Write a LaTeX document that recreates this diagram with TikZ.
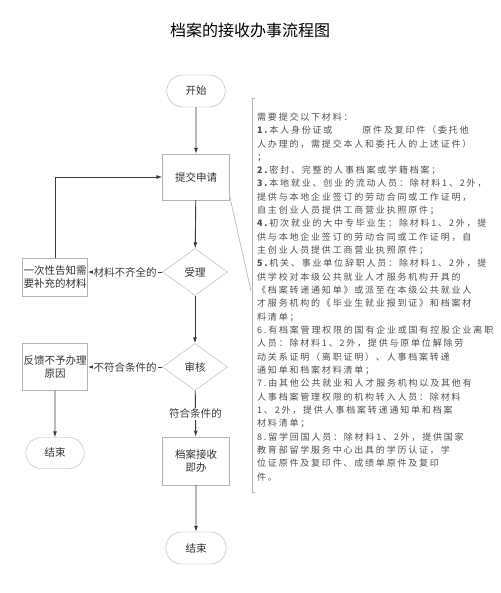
\documentclass[tikz,border=0pt]{standalone}
\usepackage{fontspec}
\setmainfont{Noto Sans CJK SC}
\newfontfamily\notefont[LetterSpace=20]{Noto Sans CJK SC}
\usetikzlibrary{arrows.meta, positioning, shapes.geometric, shapes.misc}
\definecolor{framegray}{HTML}{B4B4B4}
\definecolor{linedark}{HTML}{3C3C3C}
\definecolor{textdark}{HTML}{333333}
\definecolor{notegray}{HTML}{505050}

\begin{document}
\begin{tikzpicture}[x=1pt, y=-1pt, >={Latex[length=6pt,width=4pt]},
    font=\fontsize{10.5}{13}\selectfont, text=textdark,
    procbox/.style={draw=framegray, fill=white, minimum width=67pt, minimum height=46pt, inner sep=2pt, align=center},
    termbox/.style={draw=framegray, fill=white, rounded rectangle, minimum width=65pt, minimum height=32pt},
    decision/.style={draw=framegray, fill=white, diamond, minimum width=65pt, minimum height=47pt, inner sep=0pt},
    flow/.style={->, linedark, line width=0.9pt},
    branch/.style={fill=white, inner sep=1pt},
    noteline/.style={framegray, line width=0.6pt}]
    \fill[white] (0,0) rectangle (500,593);
    \useasboundingbox (0,0) rectangle (500,593);

    % ── Title ────────────────────────────────────────────────────────
    \node[font=\fontsize{16}{16}\selectfont, text=black] (title) at (250,30) {档案的接收办事流程图};

    % ── Main column ──────────────────────────────────────────────────
    \node[termbox] (start) at (196,91) {开始};
    \node[procbox] (submit) at (196,177) {提交申请};
    \node[decision] (accept) at (195,272) {受理};
    \node[decision] (review) at (195,367) {审核};
    \node[procbox, minimum height=48pt] (archive) at (196,461) {档案接收\\即办};
    \node[termbox, minimum width=67pt] (endmain) at (196,548) {结束};

    % ── Left column ──────────────────────────────────────────────────
    \node[procbox, minimum width=65pt, minimum height=38pt, inner sep=1pt] (notify) at (55,277) {一次性告知需\\要补充的材料};
    \node[procbox, minimum width=65pt, minimum height=47pt, inner sep=1pt] (feedback) at (55,367) {反馈不予办理\\原因};
    \node[termbox, minimum height=31pt] (endside) at (55,453) {结束};

    % Flow
    \draw[flow] (start) -- (submit);
    \draw[flow] (submit) -- (accept);
    \draw[flow] (accept) -- (review);
    \draw[flow] (review) -- node[branch] {符合条件的} (archive);
    \draw[flow] (archive) -- (endmain);
    \draw[flow] (accept.west) -- node[branch] {材料不齐全的} (accept.west -| notify.east);
    \draw[flow] (review.west) -- node[branch] {不符合条件的} (feedback.east);
    \draw[flow] (feedback) -- (endside);
    \draw[flow] (notify.north) |- (submit.west);

    % ── Materials note ───────────────────────────────────────────────
    \coordinate (notetop) at (252,98);
    \coordinate (notebot) at (252,492);
    \coordinate (notehook) at (251,291);
    \draw[noteline] ([xshift=2.5pt]notetop) -- (notetop) -- (notebot) -- ([xshift=2.5pt]notebot);
    \draw[noteline] ([yshift=4pt]submit.south east) -- (notehook);

    \node[anchor=north west, inner sep=0pt, align=left, text=notegray,
          font=\notefont\fontsize{9}{13.33}\selectfont] (materials) at (257,112.5) {%
        需要提交以下材料：\\
        \textbf{1.}本人身份证或\hspace{30pt}原件及复印件（委托他\\
        人办理的，需提交本人和委托人的上述证件）\\
        ；\\
        \textbf{2.}密封、完整的人事档案或学籍档案；\\
        \textbf{3.}本地就业、创业的流动人员：除材料1、2外，\\
        提供与本地企业签订的劳动合同或工作证明，\\
        自主创业人员提供工商营业执照原件；\\
        \textbf{4.}初次就业的大中专毕业生：除材料1、2外，提\\
        供与本地企业签订的劳动合同或工作证明，自\\
        主创业人员提供工商营业执照原件；\\
        \textbf{5.}机关、事业单位辞职人员：除材料1、2外，提\\
        供学校对本级公共就业人才服务机构开具的\\
        《档案转递通知单》或派至在本级公共就业人\\
        才服务机构的《毕业生就业报到证》和档案材\\
        料清单；\\
        6.有档案管理权限的国有企业或国有控股企业离职\\
        人员：除材料1、2外，提供与原单位解除劳\\
        动关系证明（离职证明）、人事档案转递\\
        通知单和档案材料清单；\\
        7.由其他公共就业和人才服务机构以及其他有\\
        人事档案管理权限的机构转入人员：除材料\\
        1、2外，提供人事档案转递通知单和档案\\
        材料清单；\\
        8.留学回国人员：除材料1、2外，提供国家\\
        教育部留学服务中心出具的学历认证，学\\
        位证原件及复印件、成绩单原件及复印\\
        件。};
\end{tikzpicture}
\end{document}
